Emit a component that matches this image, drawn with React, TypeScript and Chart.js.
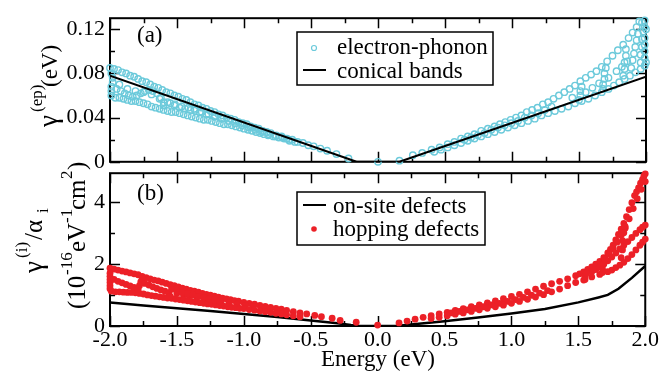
import React, { useEffect, useRef } from "react";
import { Chart, registerables } from "chart.js";

Chart.register(...registerables);

const FONT = "'Liberation Serif', 'Times New Roman', serif";
const CYAN = "#6ccadb";
const RED = "#ec2027";

type Pt = [number, number];

// ---- axis ticks ----
const energyMajorTicks = [-2, -1.5, -1, -0.5, 0, 0.5, 1, 1.5, 2];
const energyMinorTicks = [-1.75, -1.25, -0.75, -0.25, 0.25, 0.75, 1.25, 1.75];
const gammaMajorTicks = [0, 0.04, 0.08, 0.12];
const gammaMinorTicks = [0.02, 0.06, 0.1];
const defectMajorTicks = [0, 2, 4];
const defectMinorTicks = [1, 3];

// ---- panel (a): conical-band estimate, gamma^(ep) in eV ----
const conicalBands: Pt[] = [
  [-2.0, 0.078], [-0.16, 0.0], [0.16, 0.0], [2.0, 0.077],
];

// electron-phonon rates, E < 0
const phononLeftUpper: Pt[] = [
  [-2.0, 0.085], [-1.97, 0.084], [-1.94, 0.083], [-1.91, 0.081], [-1.88, 0.08], [-1.85, 0.078],
  [-1.82, 0.077], [-1.79, 0.075], [-1.76, 0.073], [-1.73, 0.072], [-1.7, 0.07], [-1.67, 0.068],
  [-1.64, 0.067], [-1.61, 0.065], [-1.58, 0.063], [-1.55, 0.062], [-1.52, 0.06], [-1.49, 0.059],
  [-1.46, 0.057], [-1.43, 0.056], [-1.4, 0.054], [-1.37, 0.052], [-1.34, 0.051], [-1.31, 0.049],
  [-1.28, 0.048], [-1.25, 0.046], [-1.22, 0.045], [-1.19, 0.043], [-1.16, 0.042], [-1.13, 0.04],
  [-1.1, 0.039], [-1.07, 0.038], [-1.04, 0.036], [-1.01, 0.035], [-0.98, 0.034], [-0.95, 0.032],
  [-0.92, 0.031], [-0.89, 0.03], [-0.86, 0.028], [-0.83, 0.027], [-0.8, 0.026], [-0.76, 0.024],
  [-0.72, 0.023], [-0.68, 0.021], [-0.64, 0.02], [-0.6, 0.018], [-0.56, 0.017], [-0.52, 0.015],
  [-0.48, 0.014], [-0.43, 0.012], [-0.38, 0.01], [-0.31, 0.007], [-0.22, 0.003], [0.0, 0.0],
];
const phononLeftMiddle: Pt[] = [
  [-1.93, 0.07], [-1.87, 0.066], [-1.81, 0.064], [-1.75, 0.063], [-1.69, 0.061], [-1.63, 0.057],
  [-1.57, 0.054], [-1.515, 0.052], [-1.465, 0.05], [-1.415, 0.049], [-1.365, 0.047], [-1.315, 0.045],
  [-1.265, 0.043], [-1.215, 0.041], [-1.165, 0.039], [-1.115, 0.037], [-1.065, 0.035], [-1.015, 0.033],
  [-0.965, 0.031], [-0.915, 0.029], [-0.865, 0.027], [-0.815, 0.025], [-0.765, 0.023], [-0.715, 0.022],
  [-0.665, 0.02],
];
const phononLeftLower: Pt[] = [
  [-1.99, 0.06], [-1.96, 0.058], [-1.93, 0.058], [-1.9, 0.057], [-1.87, 0.056], [-1.84, 0.055],
  [-1.81, 0.055], [-1.78, 0.054], [-1.75, 0.053], [-1.72, 0.052], [-1.69, 0.05], [-1.66, 0.049],
  [-1.63, 0.048], [-1.6, 0.047], [-1.57, 0.046], [-1.54, 0.045], [-1.51, 0.045], [-1.48, 0.044],
  [-1.45, 0.043], [-1.42, 0.042], [-1.39, 0.041], [-1.36, 0.04], [-1.33, 0.039], [-1.3, 0.038],
  [-1.27, 0.038], [-1.24, 0.037], [-1.21, 0.036], [-1.18, 0.035], [-1.15, 0.034], [-1.12, 0.034],
  [-1.09, 0.033], [-1.06, 0.032], [-1.03, 0.031], [-1.0, 0.03], [-0.97, 0.029], [-0.94, 0.028],
  [-0.91, 0.027], [-0.88, 0.026], [-0.85, 0.025], [-0.82, 0.024], [-0.78, 0.023], [-0.74, 0.022],
  [-0.7, 0.021], [-0.66, 0.019], [-0.62, 0.018],
];
const phononLeftLoops: Pt[] = [
  [-1.99, 0.064], [-1.99, 0.068], [-1.98, 0.072], [-1.98, 0.076], [-1.99, 0.08],
  [-1.95, 0.066], [-1.92, 0.064], [-1.89, 0.062], [-1.86, 0.06], [-1.83, 0.059], [-1.8, 0.06],
  [-1.77, 0.062], [-1.74, 0.064], [-1.71, 0.065], [-1.68, 0.064], [-1.65, 0.062], [-1.62, 0.058],
  [-1.6, 0.054], [-1.6, 0.051], [-1.55, 0.053], [-1.52, 0.051], [-1.48, 0.049], [-1.44, 0.048],
  [-1.4, 0.047], [-1.37, 0.048], [-1.33, 0.045], [-1.28, 0.043], [-1.22, 0.041],
];

// electron-phonon rates, E > 0
const phononRightUpper: Pt[] = [
  [0.16, 0.001], [0.26, 0.006], [0.33, 0.008], [0.4, 0.011], [0.46, 0.013], [0.52, 0.016],
  [0.57, 0.018], [0.62, 0.021], [0.67, 0.023], [0.72, 0.025], [0.77, 0.028], [0.82, 0.03],
  [0.87, 0.032], [0.91, 0.034], [0.95, 0.036], [0.99, 0.038], [1.03, 0.04], [1.07, 0.042],
  [1.11, 0.045], [1.15, 0.047], [1.19, 0.049], [1.23, 0.052], [1.27, 0.054], [1.31, 0.057],
  [1.35, 0.06], [1.39, 0.063], [1.43, 0.066], [1.47, 0.069], [1.51, 0.073], [1.55, 0.076],
  [1.59, 0.079], [1.63, 0.082], [1.67, 0.086], [1.71, 0.091], [1.75, 0.096], [1.79, 0.101],
  [1.83, 0.106], [1.87, 0.112], [1.9, 0.117], [1.93, 0.122], [1.95, 0.127], [1.97, 0.126],
  [1.99, 0.122],
];
const phononRightMiddle: Pt[] = [
  [0.645, 0.02], [0.695, 0.022], [0.745, 0.024], [0.795, 0.026], [0.845, 0.029], [0.895, 0.031],
  [0.945, 0.033], [0.995, 0.035], [1.045, 0.037], [1.095, 0.04], [1.145, 0.042], [1.195, 0.044],
  [1.245, 0.047], [1.295, 0.05],
];
const phononRightLower: Pt[] = [
  [0.42, 0.009], [0.47, 0.011], [0.52, 0.013], [0.57, 0.015], [0.62, 0.017], [0.67, 0.019],
  [0.72, 0.021], [0.77, 0.023], [0.82, 0.025], [0.87, 0.027], [0.92, 0.029], [0.97, 0.031],
  [1.02, 0.033], [1.07, 0.035], [1.12, 0.037], [1.17, 0.039], [1.22, 0.042], [1.27, 0.044],
  [1.32, 0.046], [1.37, 0.048], [1.42, 0.05], [1.47, 0.053], [1.52, 0.055], [1.57, 0.057],
  [1.62, 0.06], [1.67, 0.063], [1.72, 0.066], [1.76, 0.069], [1.8, 0.072], [1.84, 0.075],
  [1.88, 0.078], [1.92, 0.081], [1.96, 0.084], [1.99, 0.087],
];
const phononRightLoops: Pt[] = [
  [1.5, 0.056], [1.51, 0.06], [1.51, 0.064], [1.52, 0.068],
  [1.68, 0.066], [1.68, 0.07], [1.69, 0.075], [1.69, 0.08], [1.7, 0.085],
  [1.45, 0.058], [1.55, 0.063], [1.6, 0.067], [1.65, 0.071], [1.72, 0.076], [1.78, 0.082],
  [1.82, 0.086], [1.86, 0.091],
  [1.83, 0.078], [1.84, 0.084], [1.84, 0.09], [1.85, 0.096], [1.85, 0.102],
  [1.89, 0.085], [1.9, 0.092], [1.91, 0.098], [1.92, 0.104], [1.93, 0.11], [1.94, 0.116],
  [1.96, 0.09], [1.96, 0.097], [1.97, 0.104], [1.97, 0.111], [1.98, 0.118],
  [1.99, 0.094], [1.99, 0.1], [1.99, 0.106], [1.99, 0.112], [1.99, 0.128], [2.0, 0.09], [2.0, 0.12],
];

// ---- panel (b): gamma^(i)/alpha_i in 1e-16 eV^-1 cm^2 ----
const onSiteDefects: Pt[] = [
  [-2.0, 0.76], [-1.75, 0.66], [-1.5, 0.57], [-1.25, 0.48], [-1.0, 0.39], [-0.75, 0.29],
  [-0.5, 0.18], [-0.3, 0.09], [-0.2, 0.03], [-0.15, 0.01], [0.0, 0.0], [0.15, 0.01],
  [0.25, 0.05], [0.5, 0.15], [0.75, 0.27], [1.0, 0.4], [1.25, 0.55], [1.5, 0.76],
  [1.65, 0.92], [1.72, 1.0], [1.8, 1.2], [1.9, 1.55], [2.0, 1.93],
];

const hoppingLeftUpper: Pt[] = [
  [-2.0, 1.86], [-1.97, 1.83], [-1.94, 1.8], [-1.91, 1.77], [-1.88, 1.74], [-1.85, 1.71],
  [-1.82, 1.68], [-1.79, 1.65], [-1.76, 1.6], [-1.73, 1.56], [-1.7, 1.52], [-1.67, 1.48],
  [-1.64, 1.45], [-1.61, 1.41], [-1.58, 1.37], [-1.55, 1.33], [-1.52, 1.3], [-1.49, 1.26],
  [-1.46, 1.22], [-1.43, 1.19], [-1.4, 1.15], [-1.37, 1.12], [-1.34, 1.09], [-1.31, 1.05],
  [-1.28, 1.02], [-1.25, 0.99], [-1.22, 0.96], [-1.19, 0.93], [-1.16, 0.9], [-1.13, 0.87],
  [-1.1, 0.85], [-1.07, 0.82], [-1.04, 0.8], [-1.0, 0.76], [-0.96, 0.73], [-0.92, 0.7],
  [-0.88, 0.66], [-0.84, 0.63], [-0.8, 0.6], [-0.76, 0.57], [-0.72, 0.54], [-0.68, 0.5],
  [-0.63, 0.46], [-0.58, 0.42], [-0.53, 0.39], [-0.47, 0.34], [-0.42, 0.3], [-0.34, 0.25],
  [-0.28, 0.18], [-0.16, 0.12], [0.0, 0.03],
];
const hoppingLeftMiddle: Pt[] = [
  [-1.5, 1.05], [-1.45, 1.0], [-1.41, 0.97], [-1.35, 0.93], [-1.29, 0.88], [-1.23, 0.83],
  [-1.17, 0.78], [-1.11, 0.74], [-1.05, 0.7], [-0.99, 0.66], [-0.93, 0.62], [-0.87, 0.58],
  [-0.81, 0.54], [-0.75, 0.5], [-0.69, 0.45],
];
const hoppingLeftLower: Pt[] = [
  [-1.99, 1.12], [-1.96, 1.1], [-1.93, 1.1], [-1.9, 1.09], [-1.87, 1.08], [-1.84, 1.08],
  [-1.81, 1.07], [-1.78, 1.05], [-1.75, 1.03], [-1.72, 1.0], [-1.69, 0.98], [-1.66, 0.96],
  [-1.63, 0.94], [-1.6, 0.92], [-1.57, 0.9], [-1.54, 0.89], [-1.51, 0.87], [-1.48, 0.85],
  [-1.45, 0.83], [-1.42, 0.81], [-1.39, 0.79], [-1.36, 0.77], [-1.33, 0.75], [-1.3, 0.73],
  [-1.27, 0.71], [-1.24, 0.7], [-1.21, 0.68], [-1.18, 0.66], [-1.15, 0.64], [-1.12, 0.62],
  [-1.09, 0.6], [-1.06, 0.59], [-1.03, 0.57], [-1.0, 0.56], [-0.96, 0.53], [-0.92, 0.51],
  [-0.88, 0.48], [-0.84, 0.46], [-0.8, 0.44], [-0.76, 0.41], [-0.72, 0.39], [-0.68, 0.36],
  [-0.63, 0.33], [-0.58, 0.3],
];
const hoppingLeftLoops: Pt[] = [
  [-2.0, 1.2], [-2.0, 1.3], [-2.0, 1.4], [-2.0, 1.5], [-2.0, 1.6], [-2.0, 1.7],
  [-1.97, 1.5], [-1.94, 1.44], [-1.91, 1.39], [-1.88, 1.34], [-1.85, 1.29], [-1.82, 1.24],
  [-1.79, 1.18], [-1.78, 1.3], [-1.77, 1.42], [-1.76, 1.52],
  [-1.74, 1.37], [-1.71, 1.32], [-1.68, 1.26], [-1.65, 1.21], [-1.62, 1.16], [-1.59, 1.12],
  [-1.56, 1.06], [-1.55, 0.95], [-1.54, 1.18], [-1.5, 1.13], [-1.46, 1.08], [-1.42, 1.04],
  [-1.38, 1.0], [-1.34, 0.95], [-1.3, 0.91], [-1.26, 0.87], [-1.22, 0.84], [-1.18, 0.8],
];

const hoppingRightUpper: Pt[] = [
  [0.16, 0.1], [0.22, 0.16], [0.28, 0.22], [0.34, 0.28], [0.4, 0.33], [0.46, 0.39],
  [0.52, 0.44], [0.58, 0.5], [0.64, 0.56], [0.7, 0.62], [0.76, 0.68], [0.82, 0.74],
  [0.88, 0.81], [0.94, 0.88], [1.0, 0.95], [1.06, 1.02], [1.12, 1.1], [1.18, 1.19],
  [1.24, 1.28], [1.3, 1.36], [1.36, 1.44], [1.42, 1.52], [1.48, 1.62], [1.51, 1.68],
  [1.54, 1.74], [1.57, 1.82], [1.6, 1.9], [1.63, 1.99], [1.66, 2.08], [1.69, 2.2],
  [1.72, 2.35], [1.74, 2.47], [1.76, 2.6], [1.78, 2.77], [1.8, 2.95], [1.82, 3.12],
  [1.84, 3.3], [1.86, 3.52], [1.88, 3.75], [1.9, 3.97], [1.92, 4.2], [1.935, 4.32],
  [1.95, 4.45], [1.965, 4.6], [1.98, 4.72], [1.99, 4.83], [2.0, 4.9],
];
const hoppingRightUpperInner: Pt[] = [
  [1.7, 2.18], [1.73, 2.33], [1.76, 2.5], [1.79, 2.7], [1.82, 2.92], [1.85, 3.15],
  [1.88, 3.45], [1.91, 3.78], [1.94, 4.1], [1.97, 4.4], [2.0, 4.65],
];
const hoppingRightMiddle: Pt[] = [
  [0.55, 0.42], [0.61, 0.47], [0.67, 0.52], [0.73, 0.57], [0.79, 0.62], [0.85, 0.68],
  [0.91, 0.73], [0.97, 0.79], [1.03, 0.85], [1.09, 0.92], [1.15, 0.99], [1.21, 1.06],
  [1.27, 1.14],
];
const hoppingRightLower: Pt[] = [
  [0.4, 0.24], [0.46, 0.28], [0.52, 0.33], [0.58, 0.38], [0.64, 0.42], [0.7, 0.47],
  [0.76, 0.52], [0.82, 0.57], [0.88, 0.62], [0.94, 0.67], [1.0, 0.73], [1.06, 0.79],
  [1.12, 0.86], [1.18, 0.93], [1.24, 1.01], [1.3, 1.1], [1.36, 1.19], [1.42, 1.3],
  [1.48, 1.4], [1.54, 1.48], [1.6, 1.58], [1.66, 1.66], [1.72, 1.75], [1.75, 1.8],
  [1.78, 1.88], [1.81, 1.96], [1.84, 2.05], [1.87, 2.17], [1.9, 2.3], [1.93, 2.45],
  [1.96, 2.6], [1.98, 2.7], [2.0, 2.8],
];
const hoppingRightLoops: Pt[] = [
  [1.6, 1.75], [1.63, 1.82], [1.66, 1.9], [1.69, 2.0], [1.72, 2.1], [1.75, 2.22], [1.78, 2.35],
  [1.81, 2.48], [1.84, 2.6], [1.87, 2.72], [1.9, 2.85], [1.93, 2.98], [1.96, 3.1], [1.98, 3.18],
  [2.0, 3.25], [1.55, 1.5], [1.55, 1.6], [1.56, 1.7], [1.68, 1.72], [1.68, 1.85], [1.69, 2.0],
  [1.7, 2.15], [1.82, 2.2], [1.83, 2.45], [1.83, 2.75], [1.84, 3.0], [1.85, 3.2],
];

const toXY = (pts: Pt[]) => pts.map(([x, y]) => ({ x, y }));

// a text run along a rotated baseline: `at` is the distance from the start point
type Run = { t: string; size: number; at: number; dy?: number };

function drawRotatedRuns(ctx: CanvasRenderingContext2D, x: number, y: number, runs: Run[]) {
  ctx.save();
  ctx.translate(x, y);
  ctx.rotate(-Math.PI / 2);
  ctx.textAlign = "left";
  ctx.textBaseline = "alphabetic";
  ctx.fillStyle = "#000";
  for (const r of runs) {
    ctx.font = `${r.size}px ${FONT}`;
    ctx.fillText(r.t, r.at, r.dy || 0);
  }
  ctx.restore();
}

type LegendItem = { kind: "line" | "ring" | "dot"; label: string; color: string; y: number; baseline: number };
type Deco = {
  top: number; // canvas offset on the page
  label: string;
  labelBaseline: number;
  yMajor: number[];
  yMinor: number[];
  legendBox: [number, number, number, number];
  legendTextX: number;
  legendItems: LegendItem[];
  titles: (ctx: CanvasRenderingContext2D) => void;
};

function makeDecorPlugin(d: Deco) {
  return {
    id: "panelDecor",
    beforeDatasetsDraw(chart: any) {
      const { ctx, chartArea: a, scales } = chart;
      const xs = scales.x;
      const ys = scales.y;
      ctx.save();
      ctx.strokeStyle = "#000";
      ctx.lineWidth = 1.5;
      ctx.beginPath();
      const xTick = (v: number, len: number) => {
        const p = Math.round(xs.getPixelForValue(v)) + 0.5;
        ctx.moveTo(p, a.bottom);
        ctx.lineTo(p, a.bottom - len);
        ctx.moveTo(p, a.top);
        ctx.lineTo(p, a.top + len);
      };
      const yTick = (v: number, len: number) => {
        const p = Math.round(ys.getPixelForValue(v)) + 0.5;
        ctx.moveTo(a.left, p);
        ctx.lineTo(a.left + len, p);
        ctx.moveTo(a.right, p);
        ctx.lineTo(a.right - len, p);
      };
      energyMajorTicks.forEach((v) => xTick(v, 10));
      energyMinorTicks.forEach((v) => xTick(v, 5));
      d.yMajor.forEach((v) => yTick(v, 10));
      d.yMinor.forEach((v) => yTick(v, 5));
      ctx.stroke();
      ctx.lineWidth = 2;
      ctx.strokeRect(a.left, a.top, a.right - a.left, a.bottom - a.top);
      ctx.restore();
    },
    afterDraw(chart: any) {
      const ctx: CanvasRenderingContext2D = chart.ctx;
      ctx.save();
      ctx.translate(0, -d.top);
      ctx.fillStyle = "#000";
      ctx.textBaseline = "alphabetic";
      ctx.textAlign = "left";
      ctx.font = `23px ${FONT}`;
      ctx.fillText(d.label, 137, d.labelBaseline);

      // legend
      const [lx, ly, lw, lh] = d.legendBox;
      ctx.fillStyle = "#fff";
      ctx.fillRect(lx, ly, lw, lh);
      ctx.strokeStyle = "#000";
      ctx.lineWidth = 1.5;
      ctx.strokeRect(lx, ly, lw, lh);
      for (const it of d.legendItems) {
        if (it.kind === "line") {
          ctx.strokeStyle = it.color;
          ctx.lineWidth = 2;
          ctx.beginPath();
          ctx.moveTo(lx + 6, it.y);
          ctx.lineTo(lx + 29, it.y);
          ctx.stroke();
        } else if (it.kind === "ring") {
          ctx.strokeStyle = it.color;
          ctx.lineWidth = 1.2;
          ctx.beginPath();
          ctx.arc(lx + 17, it.y, 2.5, 0, Math.PI * 2);
          ctx.stroke();
        } else {
          ctx.fillStyle = it.color;
          ctx.beginPath();
          ctx.arc(lx + 17, it.y, 2.8, 0, Math.PI * 2);
          ctx.fill();
        }
        ctx.fillStyle = "#000";
        ctx.font = `23px ${FONT}`;
        ctx.fillText(it.label, d.legendTextX, it.baseline);
      }
      d.titles(ctx);
      ctx.restore();
    },
  };
}

const tickFont = { size: 22, family: FONT };

function buildTop(canvas: HTMLCanvasElement) {
  const deco: Deco = {
    top: 0,
    label: "(a)",
    labelBaseline: 42,
    yMajor: gammaMajorTicks,
    yMinor: gammaMinorTicks,
    legendBox: [297, 32, 196, 53],
    legendTextX: 337,
    legendItems: [
      { kind: "ring", label: "electron-phonon", color: CYAN, y: 48, baseline: 54 },
      { kind: "line", label: "conical bands", color: "#000", y: 70, baseline: 78 },
    ],
    titles: (ctx) => {
      drawRotatedRuns(ctx, 57, 127, [
        { t: "\u03b3", size: 27, at: 0 },
        { t: "(ep)", size: 17, at: 15, dy: -15 },
        { t: "(eV)", size: 23, at: 40 },
      ]);
    },
  };
  return new Chart(canvas, {
    type: "scatter",
    data: {
      datasets: [
        {
          label: "conical bands",
          data: toXY(conicalBands),
          showLine: true,
          borderColor: "#000",
          borderWidth: 2,
          pointRadius: 0,
          order: 0,
        },
        {
          label: "electron-phonon",
          data: toXY([
            ...phononLeftUpper, ...phononLeftMiddle, ...phononLeftLower, ...phononLeftLoops,
            ...phononRightUpper, ...phononRightMiddle, ...phononRightLower, ...phononRightLoops,
          ]),
          showLine: false,
          pointStyle: "circle",
          pointRadius: 3.2,
          borderWidth: 1.4,
          borderColor: CYAN,
          backgroundColor: "rgba(0,0,0,0)",
          clip: false,
          order: 1,
        },
      ],
    },
    options: {
      responsive: false,
      animation: false,
      devicePixelRatio: 1,
      layout: { padding: { top: 10, right: 14, bottom: 15, left: 0 } },
      plugins: { legend: { display: false }, tooltip: { enabled: false } },
      scales: {
        x: { type: "linear", min: -2, max: 2, display: false },
        y: {
          type: "linear",
          min: 0,
          max: 0.13,
          grid: { display: false, drawTicks: false },
          border: { display: false },
          afterFit: (s: any) => {
            s.width = 110;
          },
          ticks: {
            stepSize: 0.04,
            includeBounds: false,
            padding: 5,
            color: "#000",
            font: tickFont,
            callback: (v: any) => (Math.abs(v) < 1e-9 ? "0" : Number(v).toFixed(2)),
          },
        },
      },
    },
    plugins: [makeDecorPlugin(deco)],
  } as any);
}

function buildBottom(canvas: HTMLCanvasElement) {
  const top = 155;
  const deco: Deco = {
    top,
    label: "(b)",
    labelBaseline: 200,
    yMajor: defectMajorTicks,
    yMinor: defectMinorTicks,
    legendBox: [297, 192, 188, 53],
    legendTextX: 333,
    legendItems: [
      { kind: "line", label: "on-site defects", color: "#000", y: 205, baseline: 213 },
      { kind: "dot", label: "hopping defects", color: RED, y: 229, baseline: 236 },
    ],
    titles: (ctx) => {
      drawRotatedRuns(ctx, 42, 273, [
        { t: "\u03b3", size: 27, at: 0 },
        { t: "(i)", size: 17, at: 15, dy: -15 },
        { t: "/\u03b1", size: 25, at: 33 },
        { t: "i", size: 17, at: 60, dy: 6 },
      ]);
      drawRotatedRuns(ctx, 85, 309, [
        { t: "(10", size: 25, at: 0 },
        { t: "-16", size: 17, at: 34, dy: -13 },
        { t: "eV", size: 25, at: 57 },
        { t: "-1", size: 17, at: 86, dy: -13 },
        { t: "cm", size: 25, at: 99 },
        { t: "2", size: 17, at: 130, dy: -13 },
        { t: ")", size: 25, at: 139 },
      ]);
      ctx.font = `23px ${FONT}`;
      ctx.textAlign = "center";
      ctx.fillStyle = "#000";
      ctx.fillText("Energy (eV)", 378, 366);
    },
  };
  return new Chart(canvas, {
    type: "scatter",
    data: {
      datasets: [
        {
          label: "hopping defects",
          data: toXY([
            ...hoppingLeftUpper, ...hoppingLeftMiddle, ...hoppingLeftLower, ...hoppingLeftLoops,
            ...hoppingRightUpper, ...hoppingRightUpperInner, ...hoppingRightMiddle,
            ...hoppingRightLower, ...hoppingRightLoops,
          ]),
          showLine: false,
          pointStyle: "circle",
          pointRadius: 3.4,
          borderWidth: 0,
          backgroundColor: RED,
          clip: false,
          order: 0,
        },
        {
          label: "on-site defects",
          data: toXY(onSiteDefects),
          showLine: true,
          borderColor: "#000",
          borderWidth: 2.5,
          pointRadius: 0,
          order: 1,
        },
      ],
    },
    options: {
      responsive: false,
      animation: false,
      devicePixelRatio: 1,
      layout: { padding: { top: 10, right: 14, bottom: 0, left: 0 } },
      plugins: { legend: { display: false }, tooltip: { enabled: false } },
      scales: {
        x: {
          type: "linear",
          min: -2,
          max: 2,
          grid: { display: false, drawTicks: false },
          border: { display: false },
          afterFit: (s: any) => {
            s.height = 47;
          },
          ticks: {
            stepSize: 0.5,
            autoSkip: false,
            maxRotation: 0,
            includeBounds: false,
            padding: 1,
            color: "#000",
            font: tickFont,
            callback: (v: any) => Number(v).toFixed(1),
          },
        },
        y: {
          type: "linear",
          min: 0,
          max: 4.92,
          grid: { display: false, drawTicks: false },
          border: { display: false },
          afterFit: (s: any) => {
            s.width = 110;
          },
          ticks: {
            stepSize: 2,
            includeBounds: false,
            padding: 5,
            color: "#000",
            font: tickFont,
            callback: (v: any) => String(Math.round(Number(v))),
          },
        },
      },
    },
    plugins: [makeDecorPlugin(deco)],
  } as any);
}

export default function App() {
  const topRef = useRef<HTMLCanvasElement>(null);
  const bottomRef = useRef<HTMLCanvasElement>(null);

  useEffect(() => {
    Chart.defaults.font.family = FONT;
    const a = buildTop(topRef.current!);
    const b = buildBottom(bottomRef.current!);
    return () => {
      a.destroy();
      b.destroy();
    };
  }, []);

  return (
    <div style={{ position: "absolute", left: 0, top: 0, width: 660, height: 373, background: "#fff", overflow: "hidden" }}>
      <canvas ref={topRef} width={660} height={180} style={{ position: "absolute", left: 0, top: 0, width: 660, height: 180 }} />
      <canvas ref={bottomRef} width={660} height={218} style={{ position: "absolute", left: 0, top: 155, width: 660, height: 218 }} />
    </div>
  );
}
